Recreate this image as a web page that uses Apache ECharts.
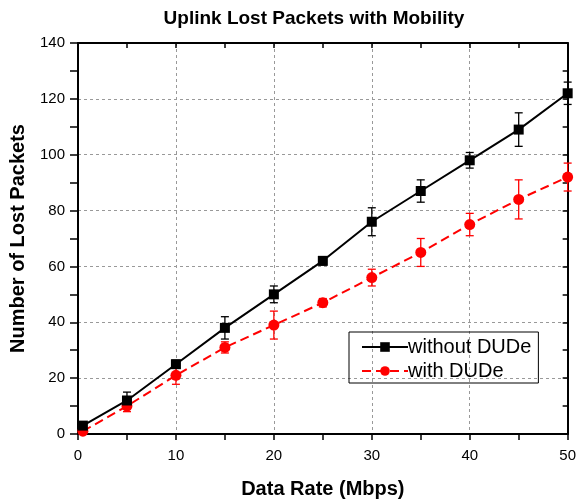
<!DOCTYPE html>
<html>
<head>
<meta charset="utf-8">
<script src="https://cdn.jsdelivr.net/npm/echarts@6/dist/echarts.min.js"></script>
<style>
html,body{margin:0;padding:0;background:#fff;}
#chart{width:579px;height:504px;}
</style>
</head>
<body>
<div id="chart"></div>
<script>
const rates = [0.5, 5, 10, 15, 20, 25, 30, 35, 40, 45, 50];
const withoutDUDe = [3, 12, 25, 38, 50, 62, 76, 87, 98, 109, 122];
const withoutErr = [1, 3, 1.4, 4, 3, 1.5, 5, 4, 2.8, 6, 4];
const withDUDe = [1, 10, 21, 31, 39, 47, 56, 65, 75, 84, 92];
const withErr = [1, 2, 3.2, 2, 5, 1.5, 3, 5, 4, 7, 5];
const seriesNames = ['without DUDe', 'with DUDe'];
const titleText = 'Uplink Lost Packets with Mobility';
const xName = 'Data Rate (Mbps)';
const yName = 'Number of Lost Packets';

const FONT = 'Arial, "Liberation Sans", sans-serif';

function errData(vals, errs) {
  return rates.map((r, i) => [r, vals[i] - errs[i], vals[i] + errs[i]]);
}
function errRender(color) {
  return function (params, api) {
    const x = api.value(0);
    const lo = api.coord([x, api.value(1)]);
    const hi = api.coord([x, api.value(2)]);
    const cap = 4;
    const style = { stroke: color, lineWidth: 1.3 };
    return {
      type: 'group',
      children: [
        { type: 'line', shape: { x1: lo[0], y1: lo[1], x2: hi[0], y2: hi[1] }, style },
        { type: 'line', shape: { x1: lo[0] - cap, y1: lo[1], x2: lo[0] + cap, y2: lo[1] }, style },
        { type: 'line', shape: { x1: hi[0] - cap, y1: hi[1], x2: hi[0] + cap, y2: hi[1] }, style }
      ]
    };
  };
}

const chart = echarts.init(document.getElementById('chart'), null, { renderer: 'canvas' });
const axisLineStyle = { color: '#000', width: 2 };
chart.setOption({
  animation: false,
  backgroundColor: '#fff',
  title: {
    text: titleText,
    left: 309, top: 4, textAlign: 'center',
    textStyle: { fontFamily: FONT, fontWeight: 'bold', fontSize: 19, color: '#000' }
  },
  legend: {
    data: seriesNames,
    orient: 'vertical',
    left: 349, top: 332,
    padding: [5, 7, 2, 12],
    itemGap: 4,
    itemWidth: 46, itemHeight: 12,
    borderColor: '#000', borderWidth: 1,
    textStyle: { fontFamily: FONT, fontSize: 20, lineHeight: 20, color: '#000', padding: [0, 0, 0, -5] }
  },
  grid: { left: 78, right: 6, top: 43, bottom: 69, containLabel: false },
  xAxis: [{
    type: 'value', min: 0, max: 50, interval: 10,
    name: xName, nameLocation: 'middle', nameGap: 45,
    nameTextStyle: { fontFamily: FONT, fontWeight: 'bold', fontSize: 20, color: '#000' },
    axisLine: { show: true, onZero: false, lineStyle: axisLineStyle },
    axisTick: { show: true, inside: false, length: 6, lineStyle: { color: '#000', width: 1.5 } },
    minorTick: { show: true, splitNumber: 2, length: 6, lineStyle: { color: '#000', width: 1.5 } },
    axisLabel: { fontFamily: FONT, fontSize: 15, color: '#000', margin: 14 },
    splitLine: { show: true, lineStyle: { color: '#999', type: [3, 3], width: 1 } }
  }, {
    type: 'value', min: 0, max: 50, interval: 10, position: 'top',
    axisLine: { show: true, onZero: false, lineStyle: axisLineStyle },
    axisTick: { show: true, inside: true, length: 5, lineStyle: { color: '#000', width: 1.5 } },
    minorTick: { show: true, splitNumber: 2, length: 5, lineStyle: { color: '#000', width: 1.5 } },
    axisLabel: { show: false },
    splitLine: { show: false }
  }],
  yAxis: [{
    type: 'value', min: 0, max: 140, interval: 20,
    name: yName, nameLocation: 'middle', nameGap: 50,
    nameTextStyle: { fontFamily: FONT, fontWeight: 'bold', fontSize: 20, color: '#000' },
    axisLine: { show: true, onZero: false, lineStyle: axisLineStyle },
    axisTick: { show: true, inside: false, length: 8, lineStyle: { color: '#000', width: 1.5 } },
    minorTick: { show: true, splitNumber: 2, length: 8, lineStyle: { color: '#000', width: 1.5 } },
    axisLabel: { fontFamily: FONT, fontSize: 15, color: '#000', margin: 13 },
    splitLine: { show: true, lineStyle: { color: '#999', type: [3, 3], width: 1 } }
  }, {
    type: 'value', min: 0, max: 140, interval: 20, position: 'right',
    axisLine: { show: true, onZero: false, lineStyle: axisLineStyle },
    axisTick: { show: true, inside: true, length: 5, lineStyle: { color: '#000', width: 1.5 } },
    minorTick: { show: true, splitNumber: 2, length: 5, lineStyle: { color: '#000', width: 1.5 } },
    axisLabel: { show: false },
    splitLine: { show: false }
  }],
  series: [
    {
      type: 'custom', name: 'errWithout', xAxisIndex: 0, yAxisIndex: 0,
      renderItem: errRender('#000'), data: errData(withoutDUDe, withoutErr),
      encode: { x: 0, y: [1, 2] }, z: 3, silent: true
    },
    {
      type: 'custom', name: 'errWith', xAxisIndex: 0, yAxisIndex: 0,
      renderItem: errRender('#ff0000'), data: errData(withDUDe, withErr),
      encode: { x: 0, y: [1, 2] }, z: 3, silent: true
    },
    {
      type: 'line', name: seriesNames[0],
      data: rates.map((r, i) => [r, withoutDUDe[i]]),
      symbol: 'rect', symbolSize: 10,
      itemStyle: { color: '#000' },
      lineStyle: { color: '#000', width: 2 },
      z: 5
    },
    {
      type: 'line', name: seriesNames[1],
      data: rates.map((r, i) => [r, withDUDe[i]]),
      symbol: 'circle', symbolSize: 11,
      itemStyle: { color: '#ff0000' },
      lineStyle: { color: '#ff0000', width: 2, type: [9, 5] },
      z: 4
    }
  ]
});
</script>
</body>
</html>
